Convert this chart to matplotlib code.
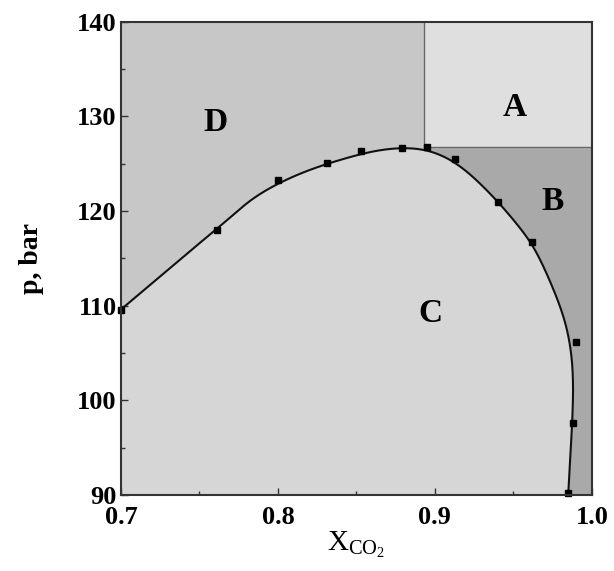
import numpy as np
import matplotlib.pyplot as plt

plt.rcParams['font.family'] = 'Liberation Serif'
plt.rcParams['mathtext.fontset'] = 'custom'
plt.rcParams['mathtext.rm'] = 'Liberation Serif'

# measured points (x_CO2, p in bar)
x_pts = [0.700, 0.761, 0.800, 0.831, 0.853, 0.879, 0.895, 0.913, 0.940, 0.962, 0.990, 0.988, 0.985]
p_pts = [109.6, 118.0, 123.3, 125.1, 126.3, 126.7, 126.8, 125.5, 121.0, 116.7, 106.2, 97.6, 90.2]

# fitted boundary line
curve_x = [0.700, 0.7535, 0.7605, 0.7715, 0.782, 0.7928, 0.801, 0.814, 0.831, 0.852,
           0.8586, 0.8713, 0.886, 0.8968, 0.9096, 0.9223, 0.9403, 0.952, 0.9626,
           0.9732, 0.9817, 0.986, 0.9881, 0.9881, 0.9875, 0.986, 0.9849]
curve_p = [109.6, 117.1, 118.0, 119.6, 121.2, 122.3, 123.0, 124.0, 125.0, 126.0,
           126.3, 126.65, 126.75, 126.5, 125.6, 124.0, 121.0, 118.7, 116.5,
           112.7, 109.2, 106.4, 103.2, 100.4, 97.6, 93.4, 90.0]

# critical point splitting the regions
x_crit = 0.893
p_crit = 126.8

region_labels = ['A', 'B', 'C', 'D']
label_x = [0.951, 0.975, 0.897, 0.760]
label_p = [130.9, 121.0, 109.2, 129.4]


def smooth_line(xs, ys, sx=166.0, n=800, sigma=1.6):
    # resample the polyline evenly and blur it a bit, ends stay put
    P = np.column_stack([np.asarray(xs) * sx, ys])
    seg = np.hypot(*np.diff(P, axis=0).T)
    s = np.concatenate([[0], np.cumsum(seg)])
    u = np.linspace(0, s[-1], n)
    Q = np.column_stack([np.interp(u, s, P[:, 0]), np.interp(u, s, P[:, 1])])
    sig = sigma / (s[-1] / (n - 1))
    k = int(4 * sig)
    w = np.exp(-0.5 * (np.arange(-k, k + 1) / sig) ** 2)
    w /= w.sum()
    pad = np.vstack([2 * Q[0] - Q[k:0:-1], Q, 2 * Q[-1] - Q[-2:-k - 2:-1]])
    out = np.column_stack([np.convolve(pad[:, j], w, mode='valid') for j in range(2)])
    return out[:, 0] / sx, out[:, 1]


cx, cp = smooth_line(curve_x, curve_p)

fig = plt.figure(figsize=(6.14, 5.71), dpi=100)
ax = fig.add_axes([0.197, 0.133, 0.767, 0.829])
ax.set_xlim(0.7, 1.0)
ax.set_ylim(90, 140)

# background regions
ax.fill_between([0.7, 1.0], 90, 140, color='#a9a9a9', zorder=0)        # B
ax.fill_between([0.7, x_crit], 90, 140, color='#c7c7c7', zorder=0.5)    # D
ax.fill_between([x_crit, 1.0], p_crit, 140, color='#dfdfdf', zorder=0.5)  # A
ax.fill(np.concatenate([cx, [0.7]]), np.concatenate([cp, [90]]), color='#d6d6d6', zorder=1)  # C
ax.plot([x_crit, x_crit], [p_crit, 140], color='#666666', lw=1, zorder=2)
ax.plot([x_crit, 1.0], [p_crit, p_crit], color='#666666', lw=1, zorder=2)

ax.plot(cx, cp, color='#111111', lw=1.5, zorder=3)
ax.plot(x_pts, p_pts, 's', color='black', ms=5, zorder=4, clip_on=False)

for lab, lx, lp in zip(region_labels, label_x, label_p):
    ax.text(lx, lp, lab, fontsize=24, fontweight='bold', ha='center', va='center', zorder=5)

ax.set_xticks([0.7, 0.8, 0.9, 1.0])
ax.set_xticklabels(['0.7', '0.8', '0.9', '1.0'])
ax.set_yticks([90, 100, 110, 120, 130, 140])
ax.set_xticks([0.75, 0.85, 0.95], minor=True)
ax.set_yticks([95, 105, 115, 125, 135], minor=True)
ax.tick_params(direction='in', length=5, width=1, labelsize=19, color='#333333')
ax.tick_params(axis='x', pad=8)
ax.tick_params(axis='y', pad=3)
ax.tick_params(which='minor', direction='in', length=3, width=1, color='#333333')
for lbl in ax.get_xticklabels() + ax.get_yticklabels():
    lbl.set_fontweight('bold')
for s in ax.spines.values():
    s.set_linewidth(1.5)
    s.set_color('#333333')
    s.set_zorder(6)

ax.set_ylabel('p, bar', fontsize=20, fontweight='bold', labelpad=24)
ax.set_xlabel(r'X$_{\mathrm{CO_2}}$', fontsize=21, labelpad=0)

fig.savefig('out.png', dpi=100)
